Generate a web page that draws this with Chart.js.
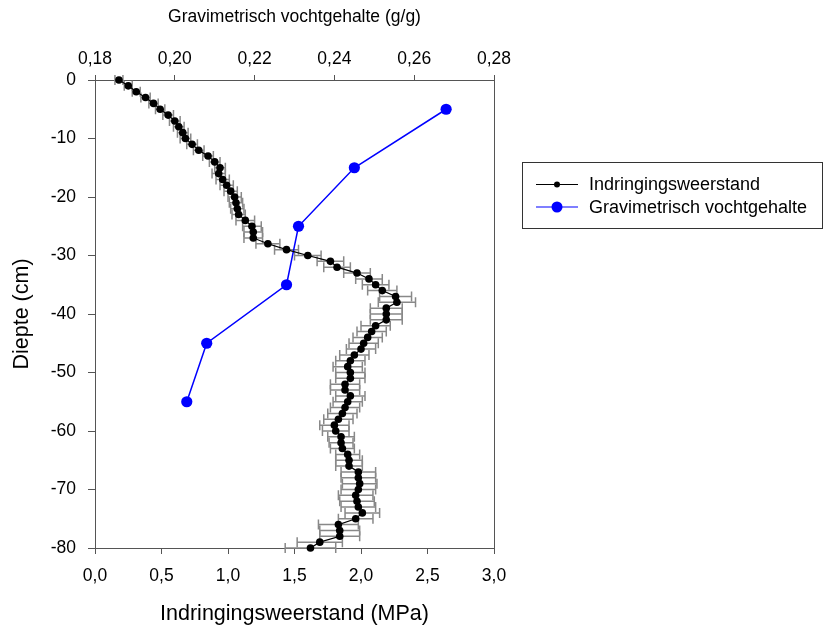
<!DOCTYPE html>
<html>
<head>
<meta charset="utf-8">
<script src="https://cdn.jsdelivr.net/npm/chart.js@4"></script>
<style>
  html, body { margin: 0; padding: 0; background: #fff; }
</style>
</head>
<body>
<canvas id="profiel" width="825" height="629"></canvas>
<script>
// diepte (cm) van de indringingsweerstand-metingen
const diepte = [
  0, -1, -2, -3, -4, -5, -6, -7, -8, -9,
  -10, -11, -12, -13, -14, -15, -16, -17, -18, -19,
  -20, -21, -22, -23, -24, -25, -26, -27, -28, -29,
  -30, -31, -32, -33, -34, -35, -36, -37, -38, -39,
  -40, -41, -42, -43, -44, -45, -46, -47, -48, -49,
  -50, -51, -52, -53, -54, -55, -56, -57, -58, -59,
  -60, -61, -62, -63, -64, -65, -66, -67, -68, -69,
  -70, -71, -72, -73, -74, -75, -76, -77, -78, -79,
  -80
];

// gemiddelde indringingsweerstand (MPa)
const weerstand = [
  0.18, 0.25, 0.31, 0.38, 0.44, 0.49, 0.55, 0.60, 0.63, 0.66,
  0.68, 0.73, 0.78, 0.85, 0.90, 0.94, 0.93, 0.96, 0.99, 1.02,
  1.05, 1.06, 1.07, 1.08, 1.13, 1.18, 1.19, 1.19, 1.30, 1.44,
  1.60, 1.77, 1.82, 1.97, 2.06, 2.11, 2.16, 2.26, 2.27, 2.19,
  2.19, 2.19, 2.11, 2.08, 2.05, 2.02, 2.00, 1.95, 1.92, 1.90,
  1.92, 1.92, 1.88, 1.88, 1.92, 1.90, 1.88, 1.86, 1.83, 1.80,
  1.81, 1.85, 1.85, 1.86, 1.90, 1.91, 1.91, 1.98, 1.98, 1.99,
  1.98, 1.96, 1.97, 1.98, 2.01, 1.96, 1.83, 1.84, 1.84, 1.69,
  1.62
];

// standaardfout van de weerstand (MPa)
const fout = [
  0.03, 0.03, 0.03, 0.035, 0.035, 0.035, 0.04, 0.04, 0.04, 0.04,
  0.04, 0.04, 0.04, 0.04, 0.04, 0.04, 0.05, 0.05, 0.05, 0.05,
  0.05, 0.05, 0.05, 0.05, 0.07, 0.07, 0.07, 0.07, 0.09, 0.09,
  0.10, 0.10, 0.10, 0.10, 0.10, 0.10, 0.11, 0.12, 0.14, 0.12,
  0.12, 0.12, 0.11, 0.11, 0.11, 0.11, 0.11, 0.11, 0.11, 0.11,
  0.11, 0.11, 0.11, 0.11, 0.11, 0.11, 0.11, 0.11, 0.11, 0.11,
  0.10, 0.10, 0.09, 0.09, 0.09, 0.10, 0.10, 0.13, 0.13, 0.13,
  0.13, 0.13, 0.13, 0.13, 0.13, 0.13, 0.15, 0.15, 0.15, 0.17,
  0.19
];

// gravimetrisch vochtgehalte (g/g) per laag
const vochtDiepte = [-5, -15, -25, -35, -45, -55];
const vocht = [0.268, 0.245, 0.231, 0.228, 0.208, 0.203];

const asKleur = '#555';
const lettertype = "'Liberation Sans', Arial, sans-serif";

// horizontale foutbalken achter de punten
const foutbalken = {
  id: 'foutbalken',
  beforeDatasetsDraw(chart) {
    const { ctx, scales: { x, y } } = chart;
    ctx.save();
    ctx.strokeStyle = '#888';
    ctx.lineWidth = 1.5;
    weerstand.forEach((v, i) => {
      const py = y.getPixelForValue(diepte[i]);
      const x0 = x.getPixelForValue(v - fout[i]);
      const x1 = x.getPixelForValue(v + fout[i]);
      ctx.beginPath();
      ctx.moveTo(x0, py); ctx.lineTo(x1, py);
      ctx.moveTo(x0, py - 5); ctx.lineTo(x0, py + 5);
      ctx.moveTo(x1, py - 5); ctx.lineTo(x1, py + 5);
      ctx.stroke();
    });
    ctx.restore();
  }
};

// rechterkant van het kader + legenda in een kader
const kaderEnLegenda = {
  id: 'kaderEnLegenda',
  afterDraw(chart) {
    const { ctx, chartArea: a } = chart;
    ctx.save();
    ctx.strokeStyle = asKleur;
    ctx.lineWidth = 1;
    ctx.beginPath();
    ctx.moveTo(Math.round(a.right) + 0.5, a.top);
    ctx.lineTo(Math.round(a.right) + 0.5, a.bottom);
    ctx.stroke();

    ctx.strokeStyle = '#333';
    ctx.strokeRect(522.5, 162.5, 300, 66);

    const rijen = chart.data.datasets.map((ds, i) => ({
      label: ds.label, kleur: ds.borderColor, r: i === 0 ? 3 : 5.5, y: 184.5 + i * 22.5
    }));
    ctx.font = '18px ' + lettertype;
    ctx.textBaseline = 'middle';
    rijen.forEach(r => {
      ctx.strokeStyle = r.kleur;
      ctx.lineWidth = 1.2;
      ctx.beginPath();
      ctx.moveTo(536, r.y); ctx.lineTo(578, r.y);
      ctx.stroke();
      ctx.fillStyle = r.kleur;
      ctx.beginPath();
      ctx.arc(557, r.y, r.r, 0, Math.PI * 2);
      ctx.fill();
      ctx.fillStyle = '#000';
      ctx.fillText(r.label, 589, r.y + 1);
    });
    ctx.restore();
  }
};

new Chart(document.getElementById('profiel'), {
  type: 'line',
  data: {
    datasets: [{
      label: 'Indringingsweerstand',
      data: weerstand.map((v, i) => ({ x: v, y: diepte[i] })),
      xAxisID: 'x',
      yAxisID: 'y',
      borderColor: '#000',
      backgroundColor: '#000',
      borderWidth: 1.2,
      pointRadius: 3.8,
      pointBorderWidth: 0,
      tension: 0,
      clip: false
    }, {
      label: 'Gravimetrisch vochtgehalte',
      data: vocht.map((v, i) => ({ x: v, y: vochtDiepte[i] })),
      xAxisID: 'x2',
      yAxisID: 'y',
      borderColor: '#0000ff',
      backgroundColor: '#0000ff',
      borderWidth: 1.5,
      pointRadius: 5.6,
      pointBorderWidth: 0,
      tension: 0,
      clip: false
    }]
  },
  options: {
    responsive: false,
    animation: false,
    layout: { padding: { left: 0, right: 331, top: 0, bottom: 0 } },
    plugins: {
      legend: { display: false },
      tooltip: { enabled: false }
    },
    scales: {
      x: {
        type: 'linear',
        position: 'bottom',
        min: 0,
        max: 3,
        afterFit(s) { s.height = 81; },
        ticks: {
          stepSize: 0.5,
          color: '#000',
          padding: 12,
          font: { family: lettertype, size: 17.5 },
          callback: v => v.toFixed(1).replace('.', ',')
        },
        grid: { drawOnChartArea: false, tickLength: 6, color: asKleur },
        border: { color: asKleur },
        title: {
          display: true,
          text: 'Indringingsweerstand (MPa)',
          color: '#000',
          font: { family: lettertype, size: 21.5 },
          padding: { top: 0, bottom: 2 }
        }
      },
      x2: {
        type: 'linear',
        position: 'top',
        min: 0.18,
        max: 0.28,
        afterFit(s) { s.height = 80; },
        ticks: {
          stepSize: 0.02,
          color: '#000',
          padding: 5,
          font: { family: lettertype, size: 17.5 },
          callback: v => v.toFixed(2).replace('.', ',')
        },
        grid: { drawOnChartArea: false, tickLength: 5, color: asKleur },
        border: { color: asKleur },
        title: {
          display: true,
          text: 'Gravimetrisch vochtgehalte (g/g)',
          color: '#000',
          font: { family: lettertype, size: 17.5 },
          padding: { top: 7, bottom: 0 }
        }
      },
      y: {
        type: 'linear',
        position: 'left',
        min: -80,
        max: 0,
        afterFit(s) { s.width = 95; },
        ticks: {
          stepSize: 10,
          color: '#000',
          padding: 12,
          font: { family: lettertype, size: 17.5 },
          callback: v => String(v)
        },
        grid: { drawOnChartArea: false, tickLength: 7, color: asKleur },
        border: { color: asKleur },
        title: {
          display: true,
          text: 'Diepte (cm)',
          color: '#000',
          font: { family: lettertype, size: 21.5 },
          padding: { top: 9, bottom: 0 }
        }
      }
    }
  },
  plugins: [foutbalken, kaderEnLegenda]
});
</script>
</body>
</html>
